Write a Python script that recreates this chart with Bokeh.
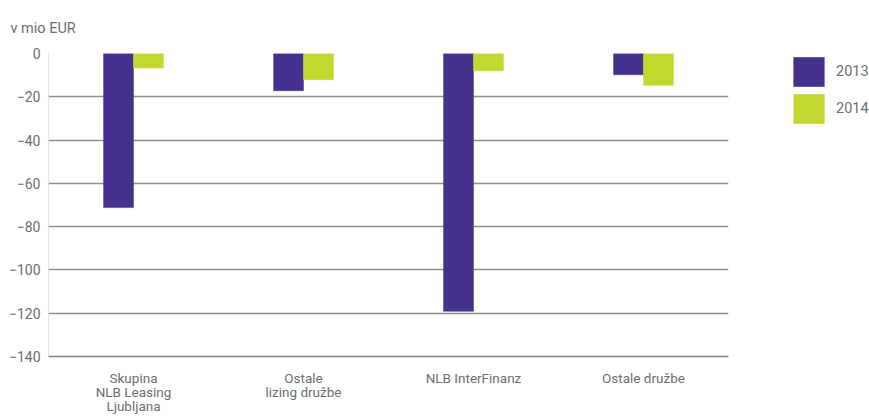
from bokeh.plotting import figure
from bokeh.layouts import row
from bokeh.models import (ColumnDataSource, FactorRange, Range1d, Legend, LegendItem,
                          FixedTicker, CategoricalAxis)
from bokeh.transform import dodge
from bokeh.embed import file_html
from bokeh.resources import INLINE

categories = ["Skupina NLB Leasing Ljubljana", "Ostale lizing družbe", "NLB InterFinanz", "Ostale družbe"]
# category labels, one list per text line (blank entries are distinct whitespace strings)
label_line1 = ["Skupina", "Ostale", "NLB InterFinanz", "Ostale družbe"]
label_line2 = ["NLB Leasing", "lizing družbe", " ", "  "]
label_line3 = ["Ljubljana", " ", "  ", "   "]
values_2013 = [-71.2, -17.2, -119.1, -9.8]
values_2014 = [-6.7, -12.1, -8.0, -14.7]
series_names = ["2013", "2014"]
y_ticks = [0, -20, -40, -60, -80, -100, -120, -140]
unit_title = "v mio EUR"

FONT = "Roboto"
TEXT = "#6d6e71"
PURPLE = "#46308e"
GREEN = "#c2d82e"
H = 417

source = ColumnDataSource(dict(cat=categories, v2013=values_2013, v2014=values_2014))

p = figure(width=735, height=H, output_backend="svg", toolbar_location=None,
           x_range=FactorRange(*categories, range_padding=0),
           y_range=Range1d(-140, 0), x_axis_location=None,
           min_border_left=48, min_border_right=7, min_border_top=53, min_border_bottom=61,
           title=unit_title)
p.outline_line_color = None
p.background_fill_color = "white"
p.border_fill_color = "white"

p.title.text_font = FONT
p.title.text_font_size = "14.5px"
p.title.text_color = TEXT
p.title.text_font_style = "normal"
p.title.align = "left"
p.title.offset = -38
p.title.standoff = 33

bw = 0.176
def bars(fig, src):
    a = fig.vbar(x=dodge("cat", -bw / 2, range=fig.x_range), top="v2013", bottom=0, width=bw,
                 source=src, fill_color=PURPLE, line_color=PURPLE, line_width=0.5)
    b = fig.vbar(x=dodge("cat", bw / 2, range=fig.x_range), top="v2014", bottom=0, width=bw,
                 source=src, fill_color=GREEN, line_color=GREEN, line_width=0.5)
    return a, b

bars(p, source)

# grid
for g in p.xgrid:
    g.visible = False
p.ygrid.ticker = FixedTicker(ticks=y_ticks)
p.ygrid.grid_line_color = "#8f8f8f"
p.ygrid.grid_line_width = 1.5

# y axis
p.yaxis.ticker = FixedTicker(ticks=y_ticks)
p.yaxis.axis_line_color = "#c8c8c8"
p.yaxis.axis_line_dash = "1 1"
p.yaxis.major_tick_line_color = None
p.yaxis.minor_tick_line_color = None
p.yaxis.major_tick_out = 0
p.yaxis.major_label_text_font = FONT
p.yaxis.major_label_text_font_size = "14px"
p.yaxis.major_label_text_color = TEXT
p.yaxis.major_label_standoff = 8

# one categorical axis per label line
for i, (lines, standoff) in enumerate([(label_line1, 13), (label_line2, -5), (label_line3, -5)]):
    name = f"line{i}"
    p.extra_x_ranges[name] = FactorRange(*lines, range_padding=0)
    ax = CategoricalAxis(x_range_name=name)
    if i == 0:
        ax.axis_line_color = "#808080"
        ax.axis_line_width = 1.5
    else:
        ax.axis_line_color = None
    ax.major_tick_line_color = None
    ax.minor_tick_line_color = None
    ax.major_tick_out = 0
    ax.major_tick_in = 0
    ax.major_label_text_font = FONT
    ax.major_label_text_font_size = "13.5px"
    ax.major_label_text_color = TEXT
    ax.major_label_standoff = standoff
    ax.major_label_orientation = "horizontal"
    p.add_layout(ax, "below")

# legend panel: its x range holds only the series names, so the bars themselves
# are not placed here; they only lend their colours to the legend glyphs
lg = figure(width=134, height=H, output_backend="svg", toolbar_location=None,
            x_axis_location=None, y_axis_location=None,
            x_range=FactorRange(*series_names), y_range=Range1d(-140, 0),
            min_border_left=54, min_border_right=0, min_border_top=42, min_border_bottom=0)
lg.outline_line_color = None
for g in lg.xgrid + lg.ygrid:
    g.visible = False
g1, g2 = bars(lg, source)
g1.glyph.line_color = None
g2.glyph.line_color = None
legend = Legend(items=[LegendItem(label=series_names[0], renderers=[g1], index=0),
                       LegendItem(label=series_names[1], renderers=[g2], index=0)],
                location="top_left", orientation="vertical",
                glyph_width=39, glyph_height=37, label_height=37, spacing=0, padding=0, margin=0,
                label_standoff=8, label_text_font=FONT, label_text_font_size="14.5px",
                label_text_color=TEXT, label_text_baseline="top",
                border_line_color=None, background_fill_alpha=0)
lg.add_layout(legend, "center")

layout = row(p, lg, spacing=0)
open("out.html", "w").write(file_html(layout, INLINE))
